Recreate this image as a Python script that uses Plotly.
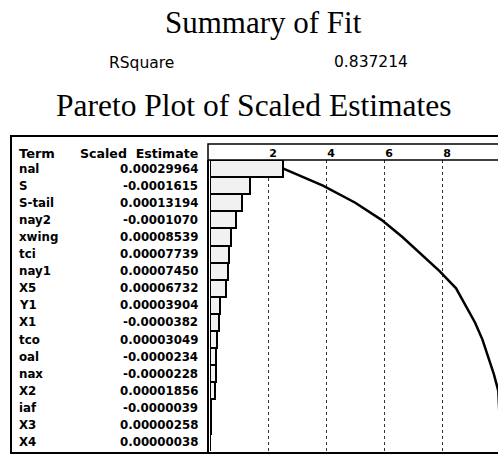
import numpy as np
import plotly.graph_objects as go

terms = ["nal", "S", "S-tail", "nay2", "xwing", "tci", "nay1", "X5", "Y1", "X1",
         "tco", "oal", "nax", "X2", "iaf", "X3", "X4"]
estimates = [0.00029964, -0.0001615, 0.00013194, -0.0001070, 0.00008539, 0.00007739,
             0.00007450, 0.00006732, 0.00003904, -0.0000382, 0.00003049, -0.0000234,
             -0.0000228, 0.00001856, -0.0000039, 0.00000258, 0.00000038]
estimate_labels = ["0.00029964", "-0.0001615", "0.00013194", "-0.0001070", "0.00008539",
                   "0.00007739", "0.00007450", "0.00006732", "0.00003904", "-0.0000382",
                   "0.00003049", "-0.0000234", "-0.0000228", "0.00001856", "-0.0000039",
                   "0.00000258", "0.00000038"]
tick_vals = [0.2, 0.4, 0.6, 0.8]
tick_text = ["2", "4", "6", "8"]
rsquare_label = "RSquare"
rsquare_value = "0.837214"

abs_est = np.abs(np.array(estimates))
frac = abs_est / abs_est.sum()
cum = np.cumsum(frac)

W, H = 498, 456
L, R, T, B = 210, 0, 160, 3
PH = H - T - B
PW = W - L - R
UNIT = 290.0  # pixels per 1.0 on the value axis


def px_y(py):
    return (H - B - py) / PH


def px_x(px):
    return (px - L) / PW


fig = go.Figure()
fig.add_trace(go.Bar(
    x=frac, y=terms, orientation="h", width=1,
    marker=dict(color="#f1f1f1", line=dict(color="black", width=2)),
    hoverinfo="skip", showlegend=False,
))
fig.add_trace(go.Scatter(
    x=cum, y=terms, mode="lines",
    line=dict(color="black", width=2.5),
    hoverinfo="skip", showlegend=False,
))

sans = "DejaVu Sans"
row_font = dict(family=sans, size=11.8, color="black", weight="bold")
annotations = []
for t, lab in zip(terms, estimate_labels):
    annotations.append(dict(x=px_x(17), y=t, xref="paper", yref="y", text=t,
                            xanchor="left", yanchor="middle", showarrow=False,
                            font=row_font))
    annotations.append(dict(x=px_x(200), y=t, xref="paper", yref="y", text=lab,
                            xanchor="right", yanchor="middle", showarrow=False,
                            font=row_font))
annotations += [
    dict(x=px_x(17), y=px_y(153), xref="paper", yref="paper", text="<b>Term</b>",
         xanchor="left", yanchor="middle", showarrow=False,
         font=dict(family=sans, size=13, color="black")),
    dict(x=px_x(200), y=px_y(153), xref="paper", yref="paper", text="<b>Scaled  Estimate</b>",
         xanchor="right", yanchor="middle", showarrow=False,
         font=dict(family=sans, size=12.6, color="black")),
    dict(x=px_x(263), y=px_y(22), xref="paper", yref="paper", text="Summary of Fit",
         xanchor="center", yanchor="middle", showarrow=False,
         font=dict(family="Liberation Serif", size=31, color="black")),
    dict(x=px_x(253), y=px_y(106), xref="paper", yref="paper",
         text="Pareto Plot of Scaled Estimates",
         xanchor="center", yanchor="middle", showarrow=False,
         font=dict(family="Liberation Serif", size=31.5, color="black")),
    dict(x=px_x(107), y=px_y(63), xref="paper", yref="paper", text=rsquare_label,
         xanchor="left", yanchor="middle", showarrow=False,
         font=dict(family=sans, size=15.5, color="black")),
    dict(x=px_x(332), y=px_y(62), xref="paper", yref="paper", text=rsquare_value,
         xanchor="left", yanchor="middle", showarrow=False,
         font=dict(family=sans, size=15.5, color="black")),
]

shapes = [
    # outer frame
    dict(type="rect", xref="paper", yref="paper", x0=px_x(11), x1=px_x(520),
         y0=px_y(453), y1=px_y(136), line=dict(color="black", width=2)),
    # header cell over the bar column
    dict(type="rect", xref="paper", yref="paper", x0=px_x(208), x1=px_x(520),
         y0=1, y1=px_y(144), line=dict(color="black", width=1.5)),
    # left border of bar column
    dict(type="line", xref="paper", yref="paper", x0=px_x(208), x1=px_x(208),
         y0=px_y(453), y1=1, line=dict(color="black", width=2)),
]

fig.update_layout(
    width=W, height=H,
    margin=dict(l=L, r=R, t=T, b=B, pad=0),
    paper_bgcolor="white", plot_bgcolor="white",
    bargap=0,
    annotations=annotations,
    shapes=shapes,
    xaxis=dict(range=[0, PW / UNIT], side="top", tickvals=tick_vals, ticktext=tick_text,
               ticks="", showline=False, zeroline=False, showgrid=True,
               gridcolor="#333333", griddash="dot", gridwidth=1,
               tickfont=dict(family=sans, size=11, color="black", weight="bold"),
               ticklabelshift=5, ticklabelstandoff=0, fixedrange=True),
    yaxis=dict(type="category", categoryorder="array", categoryarray=terms,
               range=[16.63, -0.5], showticklabels=False, ticks="",
               showgrid=False, zeroline=False, showline=False, fixedrange=True),
)

fig.write_html("out.html", config={"displayModeBar": False},
               post_script="document.body.style.margin='0';document.body.style.overflow='hidden';")
